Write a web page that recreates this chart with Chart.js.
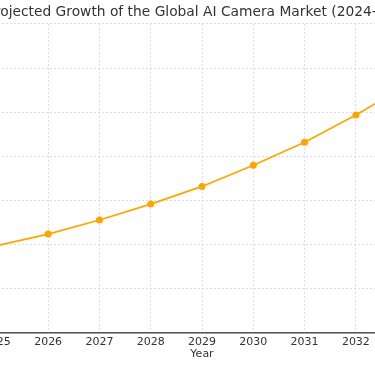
<!DOCTYPE html>
<html>
<head>
<meta charset="utf-8">
<script src="https://cdn.jsdelivr.net/npm/chart.js@4"></script>
<style>
  body { margin: 0; background: #fff; }
  #wrap { position: relative; width: 375px; height: 366px; overflow: hidden; }
  #growth-chart { position: absolute; left: -90px; top: 0; }
</style>
</head>
<body>
<div id="wrap">
  <canvas id="growth-chart" width="584" height="366"></canvas>
</div>
<script>
const years = [2024, 2025, 2026, 2027, 2028, 2029, 2030, 2031, 2032, 2033];
// market size (USD billion)
const marketSize = [8.7, 9.9, 11.2, 12.8, 14.6, 16.6, 19.0, 21.6, 24.7, 28.1];

const points = [];
for (let i = 0; i < years.length; i++) {
    points.push({x: years[i], y: marketSize[i]});
}

var ctx = document.getElementById("growth-chart").getContext("2d");
var myChart = new Chart(ctx, {
    type: "line",
    data: {
        datasets: [{
            label: "Market size",
            data: points,
            borderColor: "#FFA500",
            backgroundColor: "#FFA500",
            borderWidth: 1.7,
            pointRadius: 3.5,
            pointBorderWidth: 0,
            fill: false,
            tension: 0
        }]
    },
    options: {
        responsive: false,
        animation: false,
        layout: { padding: 0 },
        plugins: {
            legend: { display: false },
            tooltip: { enabled: false },
            title: {
                display: true,
                text: "Projected Growth of the Global AI Camera Market (2024-2033)",
                color: "#333",
                font: { family: "DejaVu Sans", size: 13.8, weight: "normal" },
                padding: { top: 3.7, bottom: 3.7 }
            }
        },
        scales: {
            x: {
                type: "linear",
                min: 2023.385,
                max: 2034.615,
                // only whole years get a tick (no ticks at min/max)
                afterBuildTicks: function(scale) {
                    scale.ticks = scale.ticks.filter(function(t) { return Number.isInteger(t.value); });
                },
                afterFit: function(scale) {
                    scale.height = 33;
                    scale.paddingLeft = 0;
                    scale.paddingRight = 0;
                },
                ticks: {
                    stepSize: 1,
                    padding: 2.5,
                    autoSkip: false,
                    maxRotation: 0,
                    minRotation: 0,
                    color: "#333",
                    font: { family: "DejaVu Sans", size: 11 },
                    callback: function(v) { return String(v); }
                },
                grid: { color: "#d6d6d6", lineWidth: 0.8, drawTicks: false },
                border: { display: true, color: "#555", width: 1.6, dash: [2, 2] },
                title: {
                    display: true,
                    text: "Year",
                    color: "#333",
                    font: { family: "DejaVu Sans", size: 11 },
                    padding: { top: 0, bottom: 5.4 }
                }
            },
            y: {
                min: 0,
                max: 35,
                afterFit: function(scale) {
                    scale.width = 0;
                    scale.paddingTop = 0;
                    scale.paddingBottom = 0;
                },
                ticks: { display: false, stepSize: 5 },
                grid: { color: "#d6d6d6", lineWidth: 0.8, drawTicks: false },
                border: { display: false, dash: [2, 2] }
            }
        }
    }
});
</script>
</body>
</html>
